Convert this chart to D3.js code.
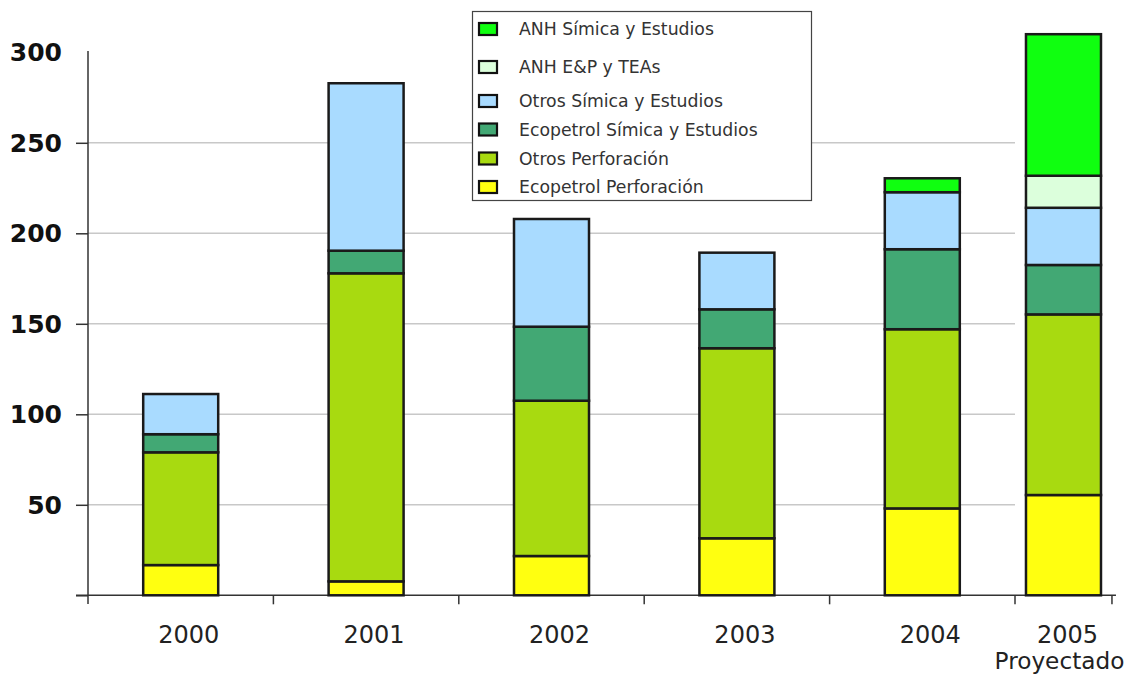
<!DOCTYPE html>
<html>
<head>
<meta charset="utf-8">
<script src="https://cdn.jsdelivr.net/npm/d3@7"></script>
<style>
  html, body { margin: 0; padding: 0; background: #fff; }
  svg { display: block; }
</style>
</head>
<body>
<svg id="chart" width="1133" height="674"></svg>
<script>
// Inversión en exploración por año (valores apilados)
const years = ["2000", "2001", "2002", "2003", "2004", "2005"];
const series = [
  "Ecopetrol Perforación",
  "Otros Perforación",
  "Ecopetrol Símica y Estudios",
  "Otros Símica y Estudios",
  "ANH E&P y TEAs",
  "ANH Símica y Estudios"
];
const ecopetrolPerforacion = [16.7, 7.7, 21.7, 31.5, 48.0, 55.4];
const otrosPerforacion     = [62.3, 170.2, 85.8, 105.0, 99.0, 99.8];
const ecopetrolSismica     = [10.0, 12.5, 40.9, 21.5, 44.2, 27.3];
const otrosSismica         = [22.2, 92.5, 59.5, 31.3, 31.5, 31.6];
const anhEyP               = [0, 0, 0, 0, 0, 17.7];
const anhSismica           = [0, 0, 0, 0, 7.7, 78.2];
const yTicks = [50, 100, 150, 200, 250, 300];
const projectedNote = "Proyectado";

const colors = {
  "Ecopetrol Perforación": "#ffff10",
  "Otros Perforación": "#a8da10",
  "Ecopetrol Símica y Estudios": "#42a874",
  "Otros Símica y Estudios": "#a9dbff",
  "ANH E&P y TEAs": "#dcffdc",
  "ANH Símica y Estudios": "#10ff10"
};

const rows = years.map((yr, i) => ({
  year: yr,
  "Ecopetrol Perforación": ecopetrolPerforacion[i],
  "Otros Perforación": otrosPerforacion[i],
  "Ecopetrol Símica y Estudios": ecopetrolSismica[i],
  "Otros Símica y Estudios": otrosSismica[i],
  "ANH E&P y TEAs": anhEyP[i],
  "ANH Símica y Estudios": anhSismica[i]
}));

const svg = d3.select("#chart");

const y = d3.scaleLinear().domain([0, 300]).range([595.3, 52.3]);
// Slot scale: one unit per year; the projected year gets a narrower slot.
const x = d3.scaleLinear().domain([0, 5]).range([88, 1015]);
const edges = [0, 1, 2, 3, 4, 5, 5.523];
const center = i => x((edges[i] + edges[i + 1]) / 2);
const barW = 75;

// Gridlines
svg.append("g")
  .selectAll("line")
  .data(yTicks.filter(t => t < 300))
  .join("line")
  .attr("x1", 88).attr("x2", x(5))
  .attr("y1", d => y(d)).attr("y2", d => y(d))
  .attr("stroke", "#c8c8c8").attr("stroke-width", 1.5);

// Y axis
const yAxis = svg.append("g")
  .attr("transform", "translate(88,0)")
  .call(d3.axisLeft(y).tickValues([0, ...yTicks]).tickSize(12).tickPadding(14).tickSizeOuter(0));
yAxis.select(".domain").remove();
yAxis.selectAll(".tick line").attr("stroke", "#333").attr("stroke-width", 1.5)
  .filter(d => d === 300).remove();
yAxis.selectAll(".tick text")
  .attr("font-family", "'DejaVu Sans', Verdana, sans-serif")
  .attr("font-weight", "bold")
  .attr("font-size", 25)
  .attr("fill", "#111")
  .attr("x", -26)
  .attr("dy", null)
  .attr("dominant-baseline", "central")
  .filter(d => d === 0).remove();

svg.append("line")
  .attr("x1", 88).attr("x2", 88).attr("y1", 51).attr("y2", 604)
  .attr("stroke", "#333").attr("stroke-width", 1.5);

// X axis line and slot ticks
svg.append("line")
  .attr("x1", 76).attr("x2", x(edges[6]) + 4)
  .attr("y1", y(0)).attr("y2", y(0))
  .attr("stroke", "#333").attr("stroke-width", 1.5);
svg.append("g")
  .selectAll("line")
  .data(edges.slice(1))
  .join("line")
  .attr("x1", d => x(d)).attr("x2", d => x(d))
  .attr("y1", y(0)).attr("y2", y(0) + 9)
  .attr("stroke", "#333").attr("stroke-width", 1.5);

// Year labels
svg.append("g")
  .selectAll("text")
  .data(years)
  .join("text")
  .attr("x", (d, i) => center(i) + (i < 5 ? 8 : 4))
  .attr("y", 643)
  .attr("text-anchor", "middle")
  .attr("font-family", "'DejaVu Sans', Verdana, sans-serif")
  .attr("font-size", 24)
  .attr("fill", "#222")
  .text(d => d);
svg.append("text")
  .attr("x", center(5) - 4)
  .attr("y", 669)
  .attr("text-anchor", "middle")
  .attr("font-family", "'DejaVu Sans', Verdana, sans-serif")
  .attr("font-size", 23.2)
  .attr("fill", "#222")
  .text(projectedNote);

// Stacked bars
const stacked = d3.stack().keys(series)(rows);
svg.append("g")
  .selectAll("g")
  .data(stacked)
  .join("g")
  .attr("fill", d => colors[d.key])
  .selectAll("rect")
  .data(d => d.map((s, i) => ({ s, i })).filter(o => o.s[1] - o.s[0] > 0))
  .join("rect")
  .attr("x", o => center(o.i) - barW / 2)
  .attr("width", barW)
  .attr("y", o => y(o.s[1]))
  .attr("height", o => y(o.s[0]) - y(o.s[1]))
  .attr("stroke", "#1a1a1a")
  .attr("stroke-width", 2.5);

// Legend
const legend = svg.append("g");
legend.append("rect")
  .attr("x", 472.5).attr("y", 11.5).attr("width", 339).attr("height", 189)
  .attr("fill", "#fff").attr("stroke", "#444").attr("stroke-width", 1.2);
const legendOrder = series.slice().reverse();
const rowY = [29, 67, 101, 129.5, 158.5, 187];
const item = legend.selectAll("g.item")
  .data(legendOrder)
  .join("g")
  .attr("class", "item")
  .attr("transform", (d, i) => `translate(0,${rowY[i]})`);
item.append("rect")
  .attr("x", 479).attr("y", -6).attr("width", 18).attr("height", 12)
  .attr("fill", d => colors[d])
  .attr("stroke", "#111").attr("stroke-width", 2.2);
item.append("text")
  .attr("x", 519).attr("y", 0)
  .attr("dominant-baseline", "central")
  .attr("font-family", "'DejaVu Sans', Verdana, sans-serif")
  .attr("font-size", 17.3)
  .attr("fill", "#333")
  .text(d => d);
</script>
</body>
</html>
